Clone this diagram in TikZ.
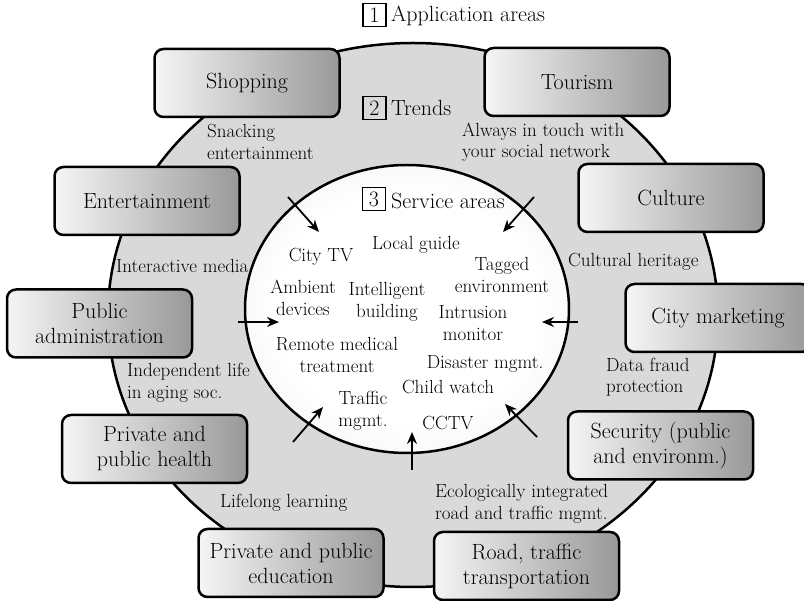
\documentclass[tikz,border=0pt]{standalone}
\usetikzlibrary{arrows.meta}

\newcommand{\boxfont}{\fontsize{22}{25}\selectfont}
\newcommand{\labelfont}{\fontsize{19}{21.5}\selectfont}

% white core fading to grey at its rim
\pgfdeclareradialshading{coreshade}{\pgfpoint{0bp}{0bp}}{color(0bp)=(white); color(20bp)=(white); color(36bp)=(gray!14); color(50bp)=(gray!24)}

\tikzset{
    appbox/.style={draw, line width=2.5pt, rounded corners=9pt, left color=gray!8, middle color=gray!32, right color=gray!80,
        minimum width=185pt, minimum height=68pt, align=center, font=\boxfont},
    trend/.style={anchor=west, align=left, inner sep=0pt, font=\labelfont},
    service/.style={align=center, inner sep=0pt, font=\labelfont},
    numbox/.style={draw, line width=1.6pt, inner sep=0pt, minimum size=23pt, font=\boxfont},
    heading/.style={anchor=west, inner sep=0pt, font=\boxfont},
    inarrow/.style={-{Stealth[length=12pt,width=10pt]}, line width=1.8pt}
}

\begin{document}
\begin{tikzpicture}[x=1pt, y=-1pt]
    \useasboundingbox (0,0) rectangle (804,601);

    % Rings
    \draw[line width=2.5pt, fill=gray!30] (413,315) ellipse [x radius=305, y radius=272];
    \draw[line width=2.5pt, shading=coreshade] (407,309) ellipse [x radius=162, y radius=144];

    % Headings
    \node[numbox] (n1) at (374.5,15) {1};
    \node[heading] (apps) at (391,16) {Application areas};
    \node[numbox] (n2) at (374.5,108) {2};
    \node[heading] (trends) at (391,108) {Trends};
    \node[numbox] (n3) at (374,199) {3};
    \node[heading] (services) at (391,201) {Service areas};

    % Application areas
    \node[appbox] (shopping) at (247,83) {Shopping};
    \node[appbox] (tourism) at (577,82) {Tourism};
    \node[appbox] (entertain) at (147,201) {Entertainment};
    \node[appbox] (culture) at (671,198) {Culture};
    \node[appbox] (publicadm) at (99.5,323.5) {Public\\administration};
    \node[appbox] (marketing) at (718,318) {City marketing};
    \node[appbox] (health) at (154.5,449) {Private and\\public health};
    \node[appbox] (security) at (660.5,445.5) {Security (public\\and environm.)};
    \node[appbox] (education) at (291,563) {Private and public\\education};
    \node[appbox] (road) at (526.5,566) {Road, traffic\\transportation};

    % Trends
    \node[trend] (snacking) at (207,142) {Snacking\\entertainment};
    \node[trend] (social) at (462,142) {Always in touch with\\your social network};
    \node[trend] (media) at (116,266) {Interactive media};
    \node[trend] (heritage) at (568,262) {Cultural heritage};
    \node[trend] (aging) at (127,383) {Independent life\\in aging soc.};
    \node[trend] (fraud) at (606,377) {Data fraud\\protection};
    \node[trend] (learning) at (220,503) {Lifelong learning};
    \node[trend] (ecology) at (435,504) {Ecologically integrated\\road and traffic mgmt.};

    % Service areas
    \node[service] (citytv) at (321,257) {City TV};
    \node[service] (guide) at (416,245) {Local guide};
    \node[service] (tagged) at (502,275) {Tagged\\environment};
    \node[service] (ambient) at (303,298) {Ambient\\devices};
    \node[service] (building) at (387,302) {Intelligent\\building};
    \node[service] (intrusion) at (473,323) {Intrusion\\monitor};
    \node[service] (medical) at (337,355) {Remote medical\\treatment};
    \node[service] (disaster) at (485,364) {Disaster mgmt.};
    \node[service] (child) at (448,387) {Child watch};
    \node[service] (traffic) at (363,411) {Traffic\\mgmt.};
    \node[service] (cctv) at (448,423) {CCTV};

    % Arrows into the service areas
    \coordinate (tlA) at (288,197);  \coordinate (tlB) at (319,232);
    \coordinate (trA) at (534,197);  \coordinate (trB) at (503,232);
    \coordinate (lA) at (238,322);   \coordinate (lB) at (279,322);
    \coordinate (rA) at (578,322);   \coordinate (rB) at (542,322);
    \coordinate (blA) at (293,442);  \coordinate (blB) at (323,407);
    \coordinate (bA) at (412,470);   \coordinate (bB) at (412,432);
    \coordinate (brA) at (537,437);  \coordinate (brB) at (505,404);
    \foreach \a in {tl,tr,l,r,bl,b,br}
        \draw[inarrow] (\a A) -- (\a B);
\end{tikzpicture}
\end{document}
